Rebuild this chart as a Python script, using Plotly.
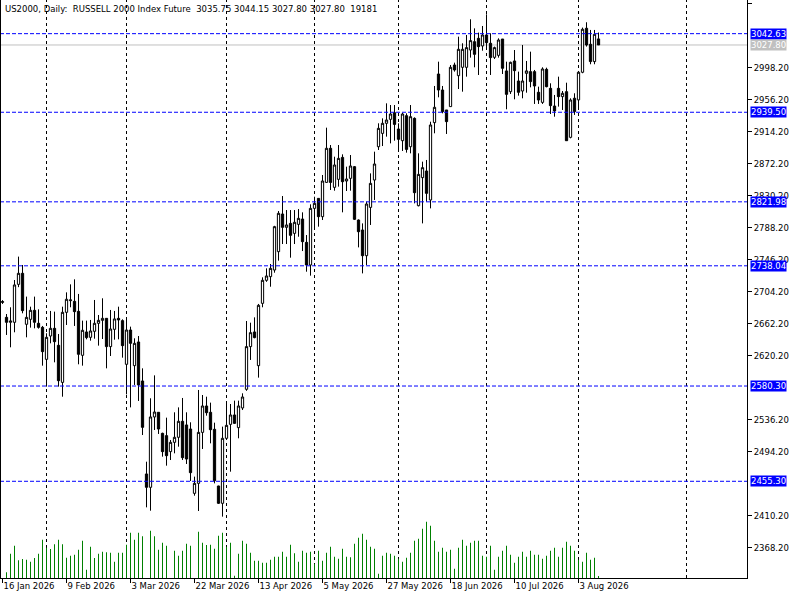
import plotly.graph_objects as go

# ---------------- data ----------------
opens = [2690.0, 2670.4, 2663.9, 2663.9, 2713.7, 2728.2, 2661.3, 2667.8, 2679.6, 2662.6,
         2657.3, 2615.3, 2645.9, 2656.0, 2633.7, 2585.1, 2677.0, 2692.3, 2691.4, 2678.3,
         2620.6, 2651.2, 2644.2, 2652.1, 2662.6, 2666.5, 2669.1, 2632.0, 2654.7, 2669.1,
         2666.1, 2608.8, 2653.8, 2607.0, 2638.1, 2586.9, 2464.9, 2447.4, 2539.7, 2545.8,
         2518.2, 2515.2, 2494.2, 2506.4, 2513.0, 2534.0, 2529.2, 2523.9, 2439.5, 2452.6,
         2519.5, 2554.1, 2545.8, 2523.5, 2449.1, 2426.4, 2511.7, 2530.0, 2542.3, 2525.7,
         2551.5, 2576.0, 2632.0, 2651.2, 2607.0, 2688.8, 2719.0, 2723.8, 2732.5, 2756.6,
         2806.0, 2788.5, 2793.7, 2780.6, 2792.4, 2799.4, 2768.8, 2739.1, 2813.4, 2826.5,
         2802.5, 2847.5, 2892.2, 2841.0, 2851.5, 2880.3, 2849.3, 2852.8, 2868.1, 2798.1,
         2785.0, 2751.3, 2814.7, 2850.6, 2894.3, 2911.8, 2925.0, 2930.2, 2938.9, 2917.5,
         2902.2, 2935.0, 2894.3, 2931.5, 2816.9, 2853.7, 2862.4, 2824.4, 2925.9, 2989.7,
         2968.7, 2942.5, 2946.9, 3001.5, 2987.5, 2998.5, 2998.5, 3021.2, 3032.1, 3036.5,
         3026.5, 3040.9, 3030.0, 3011.6, 3014.2, 3035.6, 2993.7, 2966.5, 3006.8, 2980.5,
         2967.4, 2990.6, 2992.8, 2992.8, 2965.7, 2952.5, 2995.8, 2970.9, 2947.7, 2970.9,
         2960.0, 2966.5, 2906.6, 2957.9, 2955.7, 2992.0, 3049.7, 3028.7, 3006.0, 3035.75]

highs = [2693.0, 2674.8, 2683.6, 2719.4, 2750.1, 2739.1, 2697.6, 2684.4, 2697.6, 2680.9,
         2659.1, 2649.5, 2678.8, 2677.9, 2648.6, 2684.4, 2703.2, 2713.7, 2720.3, 2701.1,
         2666.1, 2666.1, 2667.0, 2693.2, 2673.5, 2695.4, 2669.5, 2680.1, 2678.8, 2684.4,
         2667.8, 2667.0, 2658.2, 2642.9, 2645.9, 2603.5, 2481.0, 2564.2, 2594.3, 2545.8,
         2519.1, 2538.8, 2509.5, 2545.8, 2552.3, 2564.6, 2545.8, 2532.7, 2461.4, 2575.1,
         2568.5, 2566.3, 2558.5, 2532.2, 2449.5, 2527.0, 2556.7, 2556.7, 2561.1, 2561.1,
         2570.7, 2665.6, 2663.4, 2670.4, 2688.0, 2722.9, 2734.7, 2740.4, 2790.5, 2809.9,
         2829.6, 2811.2, 2811.2, 2811.2, 2812.5, 2808.2, 2778.4, 2818.7, 2828.7, 2827.0,
         2857.2, 2919.3, 2896.5, 2881.2, 2896.5, 2884.3, 2868.1, 2883.4, 2869.0, 2798.9,
         2793.7, 2822.2, 2859.3, 2887.8, 2925.0, 2931.5, 2951.2, 2949.0, 2949.0, 2925.0,
         2938.9, 2938.1, 2949.0, 2932.8, 2885.6, 2874.7, 2876.9, 2927.1, 2974.0, 3005.9,
         2974.0, 2942.5, 3001.5, 3004.6, 3038.7, 3030.0, 3040.9, 3061.5, 3049.6, 3044.0,
         3052.7, 3068.0, 3043.1, 3025.6, 3036.5, 3035.6, 3005.9, 3005.9, 3021.2, 2992.8,
         3027.8, 3006.8, 3019.0, 2995.0, 2973.1, 2998.5, 2998.0, 2977.5, 2962.2, 2986.2,
         2967.4, 2978.3, 2957.8, 2964.4, 2993.7, 3050.6, 3057.6, 3047.5, 3047.5, 3044.15]

lows = [2688.0, 2647.3, 2631.1, 2650.8, 2710.0, 2675.7, 2644.2, 2656.9, 2656.0, 2655.6,
        2607.0, 2579.5, 2636.3, 2611.4, 2579.5, 2566.3, 2660.4, 2683.6, 2659.1, 2608.8,
        2607.0, 2641.6, 2639.8, 2642.4, 2633.3, 2642.0, 2603.5, 2619.7, 2641.1, 2641.6,
        2617.5, 2569.4, 2552.3, 2581.7, 2560.7, 2516.0, 2421.1, 2416.7, 2522.6, 2517.4,
        2487.6, 2475.8, 2483.2, 2492.0, 2500.7, 2483.2, 2478.0, 2455.7, 2436.4, 2416.3,
        2497.7, 2541.4, 2505.1, 2452.6, 2425.5, 2408.9, 2510.8, 2467.9, 2530.5, 2511.7,
        2548.8, 2574.0, 2614.5, 2642.9, 2591.3, 2683.6, 2717.0, 2710.6, 2729.0, 2744.8,
        2766.6, 2766.6, 2748.7, 2766.6, 2776.2, 2757.4, 2730.3, 2725.1, 2788.5, 2789.4,
        2798.1, 2847.0, 2837.5, 2836.6, 2841.9, 2808.2, 2836.2, 2836.6, 2798.1, 2762.2,
        2728.1, 2739.1, 2791.6, 2824.4, 2890.0, 2895.2, 2907.5, 2898.7, 2902.2, 2890.0,
        2888.7, 2886.5, 2885.6, 2820.0, 2816.0, 2793.7, 2822.2, 2813.4, 2911.9, 2959.1,
        2938.1, 2911.0, 2946.9, 2992.8, 2970.0, 2966.5, 2986.2, 3011.2, 2998.5, 2988.4,
        3020.3, 3021.2, 2988.4, 3009.4, 3011.2, 2989.7, 2943.4, 2963.5, 2956.5, 2961.3,
        2957.8, 2965.2, 2972.2, 2950.4, 2950.4, 2950.4, 2972.2, 2937.2, 2933.7, 2946.9,
        2942.5, 2902.2, 2905.3, 2936.0, 2942.5, 2990.7, 3025.7, 3002.5, 3002.5, 3027.80]

closes = [2691.0, 2663.9, 2665.6, 2712.9, 2728.2, 2679.2, 2670.4, 2679.6, 2663.9, 2657.3,
          2625.4, 2644.2, 2656.0, 2638.5, 2587.3, 2677.0, 2694.1, 2693.2, 2677.9, 2621.9,
          2653.4, 2643.8, 2652.5, 2662.6, 2666.5, 2669.1, 2632.0, 2655.1, 2668.3, 2667.0,
          2633.3, 2653.8, 2636.3, 2636.3, 2581.7, 2526.1, 2447.4, 2539.7, 2546.2, 2523.9,
          2494.2, 2488.9, 2506.4, 2513.0, 2534.0, 2486.3, 2484.5, 2466.6, 2452.6, 2519.5,
          2554.1, 2545.3, 2523.0, 2456.1, 2426.4, 2511.7, 2528.7, 2542.3, 2531.3, 2554.1,
          2565.9, 2632.0, 2650.3, 2643.8, 2686.2, 2719.0, 2724.7, 2734.7, 2789.4, 2806.9,
          2788.5, 2791.6, 2778.0, 2795.1, 2800.3, 2769.7, 2739.1, 2813.4, 2820.0, 2802.5,
          2849.3, 2892.2, 2847.5, 2870.3, 2879.0, 2848.4, 2851.9, 2869.0, 2799.0, 2782.8,
          2751.3, 2819.1, 2846.2, 2871.6, 2918.4, 2925.0, 2929.3, 2937.2, 2923.6, 2904.0,
          2937.2, 2890.8, 2933.7, 2834.0, 2858.0, 2866.8, 2833.1, 2922.8, 2946.0, 2968.7,
          2940.3, 2927.2, 2998.5, 2995.0, 3022.1, 3022.1, 3024.3, 3033.5, 3015.5, 3025.6,
          3040.9, 3030.8, 3011.2, 3024.3, 3034.3, 2997.2, 2963.0, 3005.0, 2994.1, 2965.7,
          2980.5, 2993.7, 2979.7, 2974.0, 2955.6, 2996.3, 2973.1, 2948.2, 2941.2, 2960.0,
          2964.4, 2902.2, 2955.6, 2940.4, 2992.0, 3048.4, 3027.8, 3006.0, 3041.8, 3027.80]

volumes = [0, 85000, 365000, 485000, 265000, 285000, 275000, 245000, 300000, 365000,
           575000, 455000, 435000, 505000, 575000, 505000, 305000, 335000, 350000, 425000,
           560000, 125000, 470000, 300000, 365000, 395000, 385000, 380000, 245000, 380000,
           380000, 500000, 680000, 575000, 680000, 625000, 0, 710000, 625000, 425000,
           530000, 485000, 0, 410000, 335000, 410000, 515000, 485000, 0, 695000,
           530000, 495000, 500000, 440000, 635000, 680000, 470000, 530000, 35000, 365000,
           560000, 515000, 380000, 260000, 260000, 230000, 230000, 275000, 320000, 320000,
           395000, 320000, 500000, 370000, 245000, 410000, 380000, 395000, 215000, 410000,
           260000, 380000, 470000, 320000, 290000, 440000, 320000, 310000, 515000, 605000,
           665000, 575000, 470000, 440000, 65000, 335000, 380000, 365000, 335000, 290000,
           245000, 305000, 380000, 560000, 590000, 740000, 845000, 785000, 560000, 395000,
           455000, 395000, 425000, 140000, 455000, 575000, 485000, 530000, 560000, 560000,
           335000, 320000, 485000, 125000, 320000, 410000, 485000, 350000, 230000, 320000,
           395000, 320000, 410000, 350000, 350000, 290000, 335000, 410000, 455000, 320000,
           455000, 545000, 485000, 410000, 275000, 245000, 380000, 275000, 305000, 19181]

bars = list(range(len(closes)))

date_ticks = [0, 16, 32, 48, 64, 80, 96, 112, 128, 144]
date_labels = ["16 Jan 2026", "9 Feb 2026", "3 Mar 2026", "22 Mar 2026", "13 Apr 2026",
               "5 May 2026", "27 May 2026", "18 Jun 2026", "10 Jul 2026", "3 Aug 2026"]

grid_bars = [11, 31, 56, 78, 99, 121, 144, 171]

# price scale labels visible on the reference (the others are covered by level tags)
price_ticks = [2368.2, 2410.2, 2494.2, 2536.2, 2620.2, 2662.2, 2704.2, 2746.2,
               2788.2, 2830.2, 2872.2, 2914.2, 2956.2, 2998.2, 3082.2]

level_lines = [3042.63, 2939.50, 2821.98, 2738.04, 2580.30, 2455.30]
bid_price = 3027.80

title_text = ("US2000, Daily:\u00a0\u00a0RUSSELL 2000 Index Future\u00a0\u00a0"
              "3035.75 3044.15 3027.80 3027.80\u00a0\u00a019181")

FONT = "DejaVu Sans"
FS = 8.5

# ---------------- figure ----------------
fig = go.Figure()

fig.add_trace(go.Bar(
    x=bars, y=volumes, yaxis="y2", width=0.25,
    marker=dict(color="#008000", line=dict(width=0)),
    hoverinfo="skip", showlegend=False))

fig.add_trace(go.Candlestick(
    x=bars, open=opens, high=highs, low=lows, close=closes,
    increasing=dict(line=dict(color="black", width=1), fillcolor="white"),
    decreasing=dict(line=dict(color="black", width=1), fillcolor="black"),
    whiskerwidth=0, showlegend=False))

shapes = []
for g in grid_bars:
    shapes.append(dict(type="line", xref="x", yref="paper", x0=g, x1=g, y0=0, y1=1,
                       line=dict(color="black", width=1, dash="3px,3px"), layer="below"))
for lv in level_lines:
    shapes.append(dict(type="line", xref="paper", yref="y", x0=0, x1=1, y0=lv, y1=lv,
                       line=dict(color="#0000FF", width=1, dash="4px,2px"), layer="above"))
shapes.append(dict(type="line", xref="paper", yref="y", x0=0, x1=1, y0=bid_price, y1=bid_price,
                   line=dict(color="#C0C0C0", width=1), layer="below"))
shapes.append(dict(type="line", xref="paper", yref="paper", x0=0, x1=0, y0=0, y1=1,
                   line=dict(color="black", width=2)))

annotations = []
for lv in level_lines:
    annotations.append(dict(xref="paper", yref="y", x=1, y=lv, xanchor="left", yanchor="middle",
                            xshift=3, text=f"{lv:.2f}", showarrow=False, bgcolor="#0000FF",
                            borderpad=0, font=dict(family=FONT, size=FS, color="white")))
annotations.append(dict(xref="paper", yref="y", x=1, y=bid_price, xanchor="left", yanchor="middle",
                        xshift=3, text=f"{bid_price:.2f}", showarrow=False, bgcolor="#C0C0C0",
                        borderpad=0, font=dict(family=FONT, size=FS, color="white")))
annotations.append(dict(xref="paper", yref="paper", x=0, y=1, xanchor="left", yanchor="top",
                        xshift=3, yshift=-2, text=title_text, showarrow=False,
                        font=dict(family=FONT, size=FS, color="black")))

fig.update_layout(
    width=800, height=600,
    margin=dict(l=0, r=53, t=0, b=22, pad=0),
    paper_bgcolor="white", plot_bgcolor="white",
    font=dict(family=FONT, size=FS, color="black"),
    boxgap=0.25, boxgroupgap=0.25,
    showlegend=False,
    shapes=shapes, annotations=annotations,
    xaxis=dict(range=[-0.625, 186.125], rangeslider=dict(visible=False),
               tickmode="array", tickvals=date_ticks, ticktext=date_labels,
               ticks="outside", ticklen=4, tickcolor="black",
               ticklabelposition="outside right",
               showline=True, linecolor="black", linewidth=1,
               showgrid=False, zeroline=False, fixedrange=True),
    yaxis=dict(range=[2328.4, 3086.8], side="right",
               tickmode="array", tickvals=price_ticks,
               ticktext=[f"{v:.2f}" for v in price_ticks],
               ticks="outside", ticklen=4, tickcolor="black",
               showline=True, linecolor="black", linewidth=1,
               showgrid=False, zeroline=False),
    yaxis2=dict(overlaying="y", range=[0, 8670000], visible=False),
)

fig.write_html("out.html", config={"displayModeBar": False},
               post_script="document.body.style.margin='0px';document.body.style.overflow='hidden';")
